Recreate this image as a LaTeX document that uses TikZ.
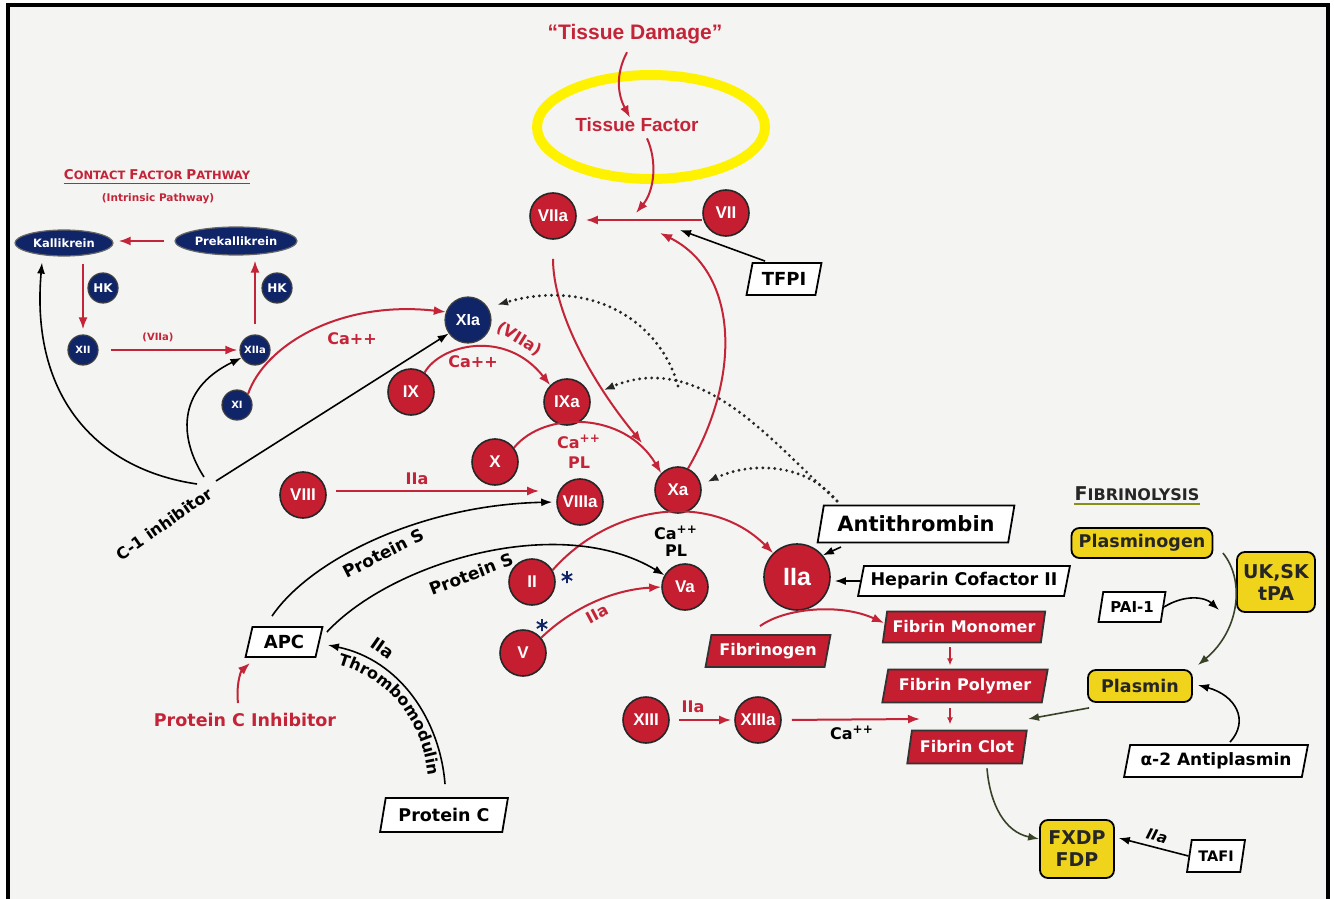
\documentclass[tikz,border=0pt]{standalone}
\usepackage{fontspec}
\setmainfont{DejaVu Sans}
\newfontfamily\libfont{Liberation Sans}
\usetikzlibrary{arrows.meta,shapes.geometric,decorations.text}
\definecolor{cred}{RGB}{196,30,48}
\definecolor{tred}{RGB}{196,36,56}
\definecolor{cnavy}{RGB}{16,36,104}
\definecolor{cyel}{RGB}{240,212,28}
\definecolor{bgc}{RGB}{244,244,242}
\definecolor{olv}{RGB}{56,66,40}
\newcommand{\myfs}[1]{\fontsize{#1}{#1}\selectfont}
\newcommand{\myfl}[2]{\fontsize{#1}{#2}\selectfont}
\tikzset{
 rc/.style={circle, fill=cred, draw=black!85, line width=0.8pt, minimum size=23pt, inner sep=0pt, text=white, font=\libfont\bfseries\myfs{8.5}},
 bc/.style={circle, fill=cnavy, draw=black!75, line width=0.6pt, minimum size=15pt, inner sep=0pt, text=white, font=\bfseries\myfs{5}},
 be/.style={ellipse, fill=cnavy, draw=black!60, line width=0.6pt, inner sep=0pt, text=white, font=\bfseries\myfs{5.75}},
 pg/.style={trapezium, trapezium left angle=72, trapezium right angle=108, trapezium stretches=true, draw=black, line width=0.9pt, fill=white, inner sep=0pt, text=black},
 rpg/.style={pg, fill=cred, draw=black!80, text=white, font=\bfseries\myfs{8}},
 yb/.style={rectangle, rounded corners=4pt, draw=black, line width=0.9pt, fill=cyel, inner sep=0pt, text=black!85, align=center},
 ra/.style={draw=tred, line width=1pt, -{Latex[length=6pt,width=4.5pt]}},
 sa/.style={draw=tred, line width=1pt, -{Latex[length=3.5pt,width=3pt]}},
 ba/.style={draw=black, line width=0.8pt, -{Latex[length=5.5pt,width=4pt]}},
 da/.style={draw=black!85, line width=1.6pt, line cap=round, dash pattern=on 0pt off 3pt, -{Latex[length=5.5pt,width=4pt]}},
 oa/.style={draw=olv, line width=0.8pt, -{Latex[length=5.5pt,width=4pt]}},
 rt/.style={text=tred, font=\bfseries\myfs{8}, inner sep=0pt},
 kt/.style={text=black, font=\bfseries\myfs{8.5}, inner sep=0pt},
}
\begin{document}
\begin{tikzpicture}[x=0.5pt,y=-0.5pt]
\useasboundingbox (0,0) rectangle (1334,899);
\fill[white] (0,0) rectangle (1334,899);
\fill[bgc] (8,6) rectangle (1327,899);
\draw[line width=2pt] (7.5,899) -- (7.5,5.5) -- (1328,5.5) -- (1328,899);

% ---------- tissue factor ----------
\node[text=tred, font=\libfont\bfseries\myfs{10.5}, inner sep=0pt] (td) at (635,34) {“Tissue Damage”};
\node[text=tred, font=\libfont\bfseries\myfs{9.5}, inner sep=0pt] (tf) at (637,125) {Tissue Factor};
\draw[color=yellow, line width=5pt] (651,127) ellipse [x radius=57pt, y radius=26pt];

% ---------- red factor circles ----------
\node[rc] (f7a) at (553,216) {VIIa};
\node[rc] (f7) at (726,213) {VII};
\node[rc] (f9) at (411,392) {IX};
\node[rc] (f9a) at (567,402) {IXa};
\node[rc] (f10) at (495,462) {X};
\node[rc] (f10a) at (678,490) {Xa};
\node[rc] (f8) at (303,495) {VIII};
\node[rc] (f8a) at (580,502) {VIIIa};
\node[rc] (f2) at (532,582) {II};
\node[rc] (f5) at (523,653) {V};
\node[rc] (f5a) at (685,587) {Va};
\node[rc] (f13) at (646,720) {XIII};
\node[rc] (f13a) at (758,720) {XIIIa};
\node[rc, minimum size=33pt, font=\libfont\bfseries\myfs{12.5}] (f2a) at (797,577) {IIa};

% ---------- contact pathway ----------
\node[bc, minimum size=23pt, font=\libfont\bfseries\myfs{8}] (f11a) at (468,320) {XIa};
\node[bc] (f12) at (83,350) {XII};
\node[bc] (f12a) at (255,350) {XIIa};
\node[bc] (f11) at (237,405) {XI};
\node[bc, font=\bfseries\myfs{6}] (hk1) at (103,288) {HK};
\node[bc, font=\bfseries\myfs{6}] (hk2) at (277,288) {HK};
\node[be, minimum width=49pt, minimum height=13pt] (kal) at (64,243) {Kallikrein};
\node[be, minimum width=61pt, minimum height=14pt] (pkal) at (236,241) {Prekallikrein};
\node[text=tred, font=\bfseries, inner sep=0pt] (cfp) at (157,175) {\myfs{6.75}C\myfs{5.75}ONTACT \myfs{6.75}F\myfs{5.75}ACTOR \myfs{6.75}P\myfs{5.75}ATHWAY};
\draw[tred, line width=0.6pt] ([yshift=-1.5pt]cfp.south west) -- ([yshift=-1.5pt]cfp.south east);
\node[text=tred, font=\bfseries\myfs{5.25}, inner sep=0pt] (ip) at (158,199) {(Intrinsic Pathway)};

\draw[ra, shorten <=5pt, shorten >=2.5pt] (pkal.west) -- (pkal.west -| kal.east);
\draw[ra, shorten <=3.5pt, shorten >=2.5pt] (kal.south -| f12) -- (f12.north);
\draw[ra, shorten <=6pt, shorten >=1pt] (f12.east) -- (f12a.west);
\draw[ra, shorten <=5pt, shorten >=2.5pt] (f12a.north) -- (f12a.north |- pkal.south);
\node[rt, font=\bfseries\myfs{5}] (l1) at (158,337) {(VIIa)};

% C-1 inhibitor
\node[kt, rotate=35, font=\bfseries\myfs{8}] (c1) at (164,524) {C-1 inhibitor};
\coordinate (c1p1) at (197,484);
\coordinate (c1p2) at (204,477);
\coordinate (c1p3) at (216,481);
\draw[ba] (c1p1) .. controls (100,470) and (30,400) .. ([xshift=-11pt,yshift=-3pt]kal.south);
\draw[ba] (c1p2) .. controls (180,440) and (175,390) .. (f12a.210);
\draw[ba] (c1p3) -- (f11a.215);

% XI -> XIa, IX -> IXa, X -> Xa
\draw[ra] (f11.45) .. controls (265,345) and (340,300) .. (f11a.160);
\node[rt] (l2) at (352,339) {Ca++};
\draw[ra] (f9.55) .. controls (440,345) and (505,328) .. (f9a.135);
\node[rt] (l3) at (473,362) {Ca++};
\node[rt, rotate=-32] (l4) at (519,339) {(VIIa)};
\draw[ra] (f10.37) .. controls (545,410) and (625,412) .. (f10a.135);
\node[rt, font=\bfseries\myfl{8}{10}, align=center] (l5) at (579,452) {Ca\textsuperscript{++}\\PL};

% tissue factor arrows
\coordinate (tfhit) at (636,213);
\coordinate (xahit) at (660,233);
\coordinate (tfpihit) at (680,230);
\coordinate (vxhit) at (642,443);
\draw[ra] ([shift={(-8,8)}]td.south) .. controls (615,75) and (618,95) .. ([xshift=-3.5pt]tf.north);
\draw[ra] ([shift={(10,6)}]tf.south) .. controls (657,160) and (655,190) .. (tfhit);
\draw[ra] ([yshift=-3.5pt]f7.west) -- ([xshift=4.5pt,yshift=-2pt]f7a.east);
\node[pg, minimum width=37.5pt, minimum height=16pt, font=\bfseries\myfs{9}] (tfpi) at (784,279) {TFPI};
\draw[ba] ([shift={(-2,-1)}]tfpi.north west) -- (tfpihit);
\draw[ra] (f10a.65) .. controls (745,370) and (735,270) .. (xahit);
\draw[ra] ([yshift=-9.5pt]f7a.south) .. controls (553,310) and (590,380) .. (vxhit);

% VIII
\draw[ra] ([shift={(9,-4)}]f8.east) -- ([shift={(-17,-11)}]f8a.west);
\node[rt] (l6) at (417,479) {IIa};

% antithrombin & dotted
\node[pg, minimum width=98.5pt, minimum height=18.5pt, font=\bfseries\myfs{10.5}] (at) at (916,524) {Antithrombin};
\node[pg, minimum width=106pt, minimum height=15pt, font=\bfseries\myfs{8.75}] (hc) at (964,581) {Heparin Cofactor II};
\coordinate (dsrc) at (837,501);
\coordinate (dmid) at (678,386);
\coordinate (ats) at (841,547);
\draw[da] (dsrc) .. controls (805,462) and (750,462) .. ([xshift=3.5pt]f10a.20);
\draw[da] (dsrc) .. controls (770,440) and (700,350) .. ([xshift=8pt]f9a.30);
\draw[da] (dmid) .. controls (660,320) and (590,278) .. ([xshift=5.5pt]f11a.40);
\draw[ba] (ats) -- (f2a.40);
\draw[ba, shorten >=2pt] (hc.west) -- (hc.west -| f2a.east);

% II -> IIa
\draw[ra] (f2.30) .. controls (610,505) and (710,490) .. (f2a.135);
\node[kt, font=\bfseries\myfl{8}{8.5}, align=center] (l7) at (676,541) {Ca\textsuperscript{++}\\PL};
% V -> Va
\draw[ra] (f5.40) .. controls (570,610) and (610,590) .. (f5a.west);
\node[rt, rotate=28] (l8) at (597,614) {IIa};
\foreach \p in {(567,577),(542,625)} {
  \draw[cnavy, line width=0.9pt] \p +(0,-6) -- +(0,6) \p +(-5.2,-3) -- +(5.2,3) \p +(-5.2,3) -- +(5.2,-3);
}

% protein C system
\node[pg, minimum width=38.5pt, minimum height=15pt, font=\bfseries\myfs{9}] (apc) at (284,642) {APC};
\node[pg, minimum width=64pt, minimum height=17pt, font=\bfseries\myfs{8.75}] (pc) at (444,815) {Protein C};
\node[rt, font=\bfseries\myfs{8.75}] (pci) at (245,720) {Protein C Inhibitor};
\coordinate (pcis) at (238,703);
\coordinate (pcih) at (250,663);
\draw[ra] (pcis) .. controls (236,688) and (240,672) .. (pcih);
\draw[ba, shorten >=2pt] ([shift={(-12,-10)}]apc.north) .. controls (310,560) and (420,505) .. (f8a.west);
\draw[ba] ([shift={(7,-10)}]apc.east) .. controls (392,562) and (560,512) .. (f5a.150);
\node[kt, rotate=27] (l9) at (383,553) {Protein S};
\node[kt, rotate=21] (l10) at (471,574) {Protein S};
\draw[ba] ([shift={(1,-13)}]pc.north) .. controls (440,720) and (400,660) .. ([shift={(8,3)}]apc.east);
\node[kt, rotate=-35] (l11) at (383,648) {IIa};
\path[decorate, decoration={text along path, text={|\bfseries\myfs{8}|Thrombomodulin}, text align=center}] (322,661) .. controls (392,674) and (426,722) .. (430,792);

% fibrin formation
\node[rpg, minimum width=81.5pt, minimum height=15.5pt] (fm) at (964,627) {Fibrin Monomer};
\node[rpg, minimum width=62.5pt, minimum height=16pt] (fbg) at (768,651) {Fibrinogen};
\node[rpg, minimum width=83pt, minimum height=16.5pt] (fp) at (965,686) {Fibrin Polymer};
\node[rpg, minimum width=60pt, minimum height=16.5pt] (fc) at (967,747) {Fibrin Clot};
\draw[ra] ([shift={(-8,-8)}]fbg.north) .. controls (785,608) and (840,603) .. ([shift={(0,-4)}]fm.west);
\draw[sa] ([shift={(-14,4)}]fm.south) -- ++(0,18);
\draw[sa] ([shift={(-15,5)}]fp.south) -- ++(0,16);
\coordinate (clothit) at (920,719);
\draw[ra, shorten <=4.5pt, shorten >=1.5pt] (f13.east) -- (f13a.west);
\node[rt] (l12) at (693,707) {IIa};
\draw[ra, shorten <=5pt] (f13a.east) -- (clothit);
\node[kt, font=\bfseries\myfs{8}] (l13) at (852,733) {Ca\textsuperscript{++}};

% fibrinolysis
\node[text=black!85, font=\bfseries, inner sep=0pt] (fibt) at (1137,494) {\myfs{9.5}F\myfs{8}IBRINOLYSIS};
\draw[olv!60!yellow, line width=1pt] ([yshift=-1.5pt]fibt.south west) -- ([yshift=-1.5pt]fibt.south east);
\node[yb, minimum width=70.5pt, minimum height=15pt, font=\bfseries\myfs{8.75}] (pgn) at (1142,543) {Plasminogen};
\node[yb, minimum width=39pt, minimum height=30pt, font=\bfseries\myfl{9.5}{11}] (uk) at (1276,582) {UK,SK\\tPA};
\node[pg, minimum width=33.5pt, minimum height=15pt, font=\bfseries\myfs{7.5}] (pai) at (1132,607) {PAI-1};
\node[yb, minimum width=52pt, minimum height=16pt, font=\bfseries\myfs{8.75}] (pls) at (1140,686) {Plasmin};
\node[pg, minimum width=92.5pt, minimum height=16pt, font=\bfseries\myfs{8.5}] (a2ap) at (1216,761) {α-2 Antiplasmin};
\node[yb, minimum width=37pt, minimum height=29pt, font=\bfseries\myfl{9.5}{11}] (fdp) at (1077,849) {FXDP\\FDP};
\node[pg, minimum width=29pt, minimum height=16pt, font=\bfseries\myfs{7.25}] (tafi) at (1216,856) {TAFI};
\coordinate (paihit) at (1219,610);
\coordinate (plshit) at (1028,719);
\draw[oa] ([shift={(9.5,10)}]pgn.east) .. controls (1245,580) and (1240,630) .. ([shift={(5,-4)}]pls.north east);
\draw[ba] (pai.east) .. controls (1185,594) and (1205,597) .. (paihit);
\draw[ba] ([shift={(14,-2)}]a2ap.north) .. controls (1250,720) and (1235,695) .. ([shift={(5,-1)}]pls.east);
\draw[oa] ([shift={(2,5)}]pls.south west) -- (plshit);
\draw[oa] ([shift={(20,4)}]fc.south) .. controls (990,805) and (1005,832) .. ([yshift=5pt]fdp.west);
\draw[ba, shorten >=2pt] (tafi.west) -- ([yshift=6pt]fdp.east);
\node[kt, rotate=-15, font=\bfseries\itshape\myfs{7.5}] (l14) at (1157,836) {IIa};
\end{tikzpicture}
\end{document}
